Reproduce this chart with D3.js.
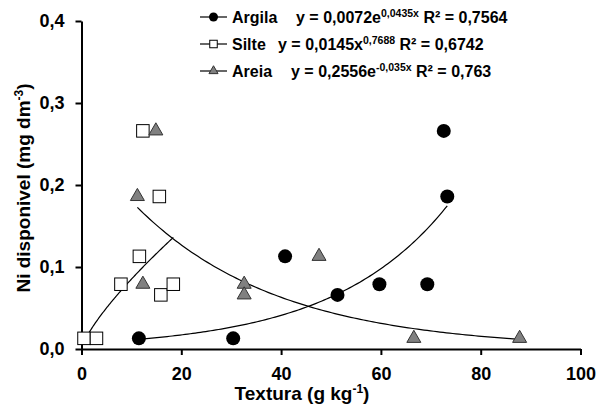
<!DOCTYPE html>
<html>
<head>
<meta charset="utf-8">
<script src="https://cdn.jsdelivr.net/npm/d3@7"></script>
<style>
  html, body { margin: 0; padding: 0; background: #fff; }
  svg text { font-family: "Liberation Sans", Arial, sans-serif; font-weight: bold; fill: #000; }
</style>
</head>
<body>
<svg id="chart" width="605" height="412"></svg>
<script>
// ---- data ----
const argilaX = [11.5, 30.4, 40.8, 51.3, 59.7, 69.3, 72.6, 73.3];
const argilaY = [0.013, 0.013, 0.113, 0.066, 0.079, 0.079, 0.266, 0.186];
const silteX  = [0.5, 3.0, 7.9, 11.6, 12.3, 15.6, 15.9, 18.4];
const silteY  = [0.013, 0.013, 0.079, 0.113, 0.266, 0.186, 0.066, 0.079];
const areiaX  = [11.2, 12.3, 14.9, 32.6, 32.6, 47.6, 66.6, 87.8];
const areiaY  = [0.186, 0.079, 0.266, 0.079, 0.066, 0.113, 0.013, 0.013];
const xTicks = [0, 20, 40, 60, 80, 100];
const yTicks = [0, 0.1, 0.2, 0.3, 0.4];
const yTickLabels = ["0,0", "0,1", "0,2", "0,3", "0,4"];
const seriesNames = ["Argila", "Silte", "Areia"];
const eqMain = ["y = 0,0072e", "y = 0,0145x", "y = 0,2556e"];
const eqSup  = ["0,0435x", "0,7688", "-0,035x"];
const eqR2   = [" R\u00B2 = 0,7564", " R\u00B2 = 0,6742", " R\u00B2 = 0,763"];
// trendline models (from the equations in the legend)
const fitArgila = x => 0.0072 * Math.exp(0.0435 * x);
const fitSilte  = x => 0.0145 * Math.pow(x, 0.7688);
const fitAreia  = x => 0.2556 * Math.exp(-0.035 * x);

// ---- chart ----
const svg = d3.select("#chart");
const x = d3.scaleLinear().domain([0, 100]).range([81.5, 580.5]);
const y = d3.scaleLinear().domain([0, 0.4]).range([349, 21]);

// axes
const xAxis = d3.axisBottom(x).tickValues(xTicks).tickSizeInner(6).tickSizeOuter(0).tickPadding(12)
  .tickFormat(d => String(d));
const yAxis = d3.axisLeft(y).tickValues(yTicks).tickSizeInner(6).tickSizeOuter(0).tickPadding(11)
  .tickFormat((d, i) => yTickLabels[i]);

const gx = svg.append("g").attr("transform", `translate(0,${y(0)})`).call(xAxis);
const gy = svg.append("g").attr("transform", `translate(${x(0)},0)`).call(yAxis);
[gx, gy].forEach(g => {
  g.select(".domain").attr("stroke", "#000").attr("stroke-width", 2);
  g.selectAll(".tick line").attr("stroke", "#000").attr("stroke-width", 2);
  g.selectAll(".tick text").attr("font-size", 18).attr("font-family", "Liberation Sans, Arial, sans-serif").attr("font-weight", "bold").attr("fill", "#000");
});

// axis titles
const xt = svg.append("text").attr("x", 302).attr("y", 400).attr("text-anchor", "middle").attr("font-size", 19);
xt.append("tspan").text("Textura (g kg");
xt.append("tspan").attr("font-size", 12).attr("dy", -7).text("-1");
xt.append("tspan").attr("dy", 7).text(")");

const yt = svg.append("text").attr("transform", "translate(30,188) rotate(-90)").attr("text-anchor", "middle").attr("font-size", 19);
yt.append("tspan").text("Ni disponivel (mg dm");
yt.append("tspan").attr("font-size", 12).attr("dy", -7).text("-3");
yt.append("tspan").attr("dy", 7).text(")");

// trendlines
const line = d3.line().x(d => x(d[0])).y(d => y(d[1]));
function curve(f, x0, x1) {
  const pts = [];
  const n = 120;
  for (let i = 0; i <= n; i++) { const xv = x0 + (x1 - x0) * i / n; pts.push([xv, f(xv)]); }
  return pts;
}
svg.append("path").attr("d", line(curve(fitArgila, d3.min(argilaX), d3.max(argilaX)))).attr("fill", "none").attr("stroke", "#000").attr("stroke-width", 1.2);
svg.append("path").attr("d", line(curve(fitSilte, d3.min(silteX), d3.max(silteX)))).attr("fill", "none").attr("stroke", "#000").attr("stroke-width", 1.2);
svg.append("path").attr("d", line(curve(fitAreia, d3.min(areiaX), d3.max(areiaX)))).attr("fill", "none").attr("stroke", "#000").attr("stroke-width", 1.2);

// markers
const tri = d3.symbol().type(d3.symbolTriangle).size(85);
const triSmall = d3.symbol().type(d3.symbolTriangle).size(36);
function drawCircle(g, cx, cy, r) {
  g.append("circle").attr("cx", cx).attr("cy", cy).attr("r", r).attr("fill", "#000");
}
function drawSquare(g, cx, cy, s) {
  g.append("rect").attr("x", cx - s / 2).attr("y", cy - s / 2).attr("width", s).attr("height", s)
    .attr("fill", "#fff").attr("stroke", "#000").attr("stroke-width", 1);
}
function drawTri(g, cx, cy, gen) {
  g.append("path").attr("d", gen()).attr("transform", `translate(${cx},${cy})`)
    .attr("fill", "#808080").attr("stroke", "#333").attr("stroke-width", 1);
}
const gm = svg.append("g");
silteX.forEach((v, i) => drawSquare(gm, x(v), y(silteY[i]), 12.5));
areiaX.forEach((v, i) => drawTri(gm, x(v), y(areiaY[i]), tri));
argilaX.forEach((v, i) => drawCircle(gm, x(v), y(argilaY[i]), 7));

// legend
const rowsY = [17, 44, 71];
const eqX = [296, 278, 291];
seriesNames.forEach((name, i) => {
  const cy = rowsY[i];
  svg.append("line").attr("x1", 200).attr("x2", 227).attr("y1", cy).attr("y2", cy).attr("stroke", "#000").attr("stroke-width", 1.2);
  if (i === 0) drawCircle(svg, 213.5, cy, 4.5);
  if (i === 1) drawSquare(svg, 213.5, cy, 7.5);
  if (i === 2) drawTri(svg, 213.5, cy, triSmall);
  svg.append("text").attr("x", 232).attr("y", cy + 6).attr("font-size", 16).text(name);
  const t = svg.append("text").attr("x", eqX[i]).attr("y", cy + 6).attr("font-size", 16);
  t.append("tspan").text(eqMain[i]);
  t.append("tspan").attr("font-size", 10.5).attr("dy", -6).text(eqSup[i]);
  t.append("tspan").attr("dy", 6).text(eqR2[i]);
});
</script>
</body>
</html>
